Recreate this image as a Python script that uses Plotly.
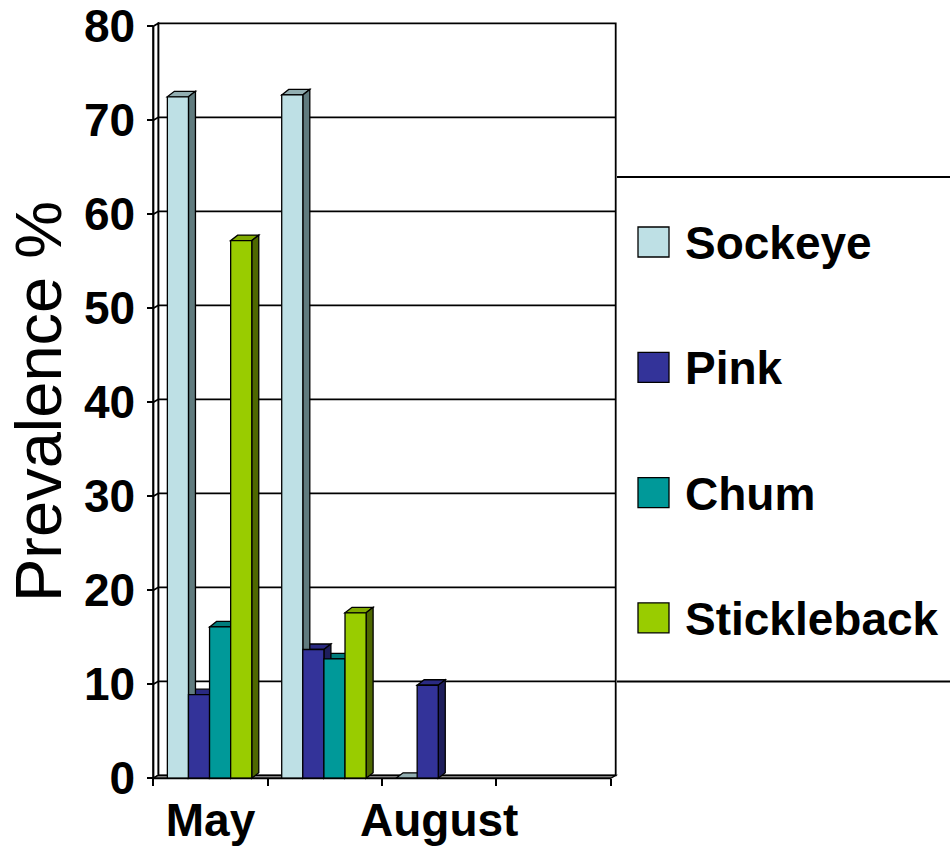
import plotly.graph_objects as go

# ---- data -------------------------------------------------------------
month_labels = ["May", "", "August", ""]
series_names = ["Sockeye", "Pink", "Chum", "Stickleback"]
sockeye = [72.5, 72.7, 0.0, None]
pink = [8.9, 13.7, 9.9, None]
chum = [16.1, 12.7, None, None]
stickleback = [57.2, 17.6, None, None]
y_ticks = [0, 10, 20, 30, 40, 50, 60, 70, 80]

# ---- styling ----------------------------------------------------------
front_colors = ["#BEE0E5", "#333399", "#009999", "#99CC00"]
top_colors = ["#92AEB1", "#2A2A82", "#007C7C", "#80AA00"]
side_colors = ["#607B7E", "#1E1E5C", "#005A5A", "#4E6800"]
FONT = "Liberation Sans, Arial, sans-serif"

W, H = 950, 851
L, R, T, B = 147, 623, 15, 783          # plot area in pixels
X0_PX, SLOT_PX = 153.3, 114.35           # x=0 position, pixels per category slot
Y0_PX, UNIT_PX = 778.3, 9.40             # y=0 position, pixels per unit

x_range = [(L - X0_PX) / SLOT_PX, (R - X0_PX) / SLOT_PX]
y_range = [(Y0_PX - B) / UNIT_PX, (Y0_PX - T) / UNIT_PX]

n_slots = len(month_labels)
y_top = y_ticks[-1]

WALL_DX, WALL_DY = 5 / SLOT_PX, 3 / UNIT_PX      # depth of back wall
BAR_DX, BAR_DY = 7 / SLOT_PX, 5.5 / UNIT_PX      # depth of each bar
BAR_W = 21.1 / SLOT_PX
GROUP_SHIFT = -0.008


def px_x(p):
    return (p - L) / (R - L)


def px_y(p):
    return (B - p) / (B - T)


def poly(pts):
    return "M " + " L ".join(f"{x:.5f},{y:.5f}" for x, y in pts) + " Z"


series = [sockeye, pink, chum, stickleback]
shapes = []

# back wall
shapes.append(dict(type="rect", xref="x", yref="y", layer="below",
                   x0=WALL_DX, x1=n_slots + WALL_DX, y0=WALL_DY, y1=y_top + WALL_DY,
                   fillcolor="white", line=dict(color="black", width=1.8)))
# left side wall
shapes.append(dict(type="path", xref="x", yref="y", layer="below",
                   path=poly([(0, 0), (WALL_DX, WALL_DY), (WALL_DX, y_top + WALL_DY), (0, y_top)]),
                   fillcolor="white", line=dict(color="black", width=1.8)))
# gridlines on the walls
for v in y_ticks[1:-1]:
    shapes.append(dict(type="path", xref="x", yref="y", layer="below",
                       path=f"M 0,{v} L {WALL_DX:.5f},{v + WALL_DY:.5f} L {n_slots + WALL_DX:.5f},{v + WALL_DY:.5f}",
                       line=dict(color="black", width=1.8)))
# floor
shapes.append(dict(type="path", xref="x", yref="y", layer="below",
                   path=poly([(0, 0), (n_slots, 0), (n_slots + WALL_DX, WALL_DY), (WALL_DX, WALL_DY)]),
                   fillcolor="#808080", line=dict(color="black", width=1.3)))

# bar geometry
bar_x = []
for i, vals in enumerate(series):
    bar_x.append([k + 0.5 + GROUP_SHIFT + (i - 1.5) * BAR_W for k in range(n_slots)])

tops, sides = [], []
for k in range(n_slots):
    for i, vals in enumerate(series):
        v = vals[k]
        if v is None:
            continue
        x0 = bar_x[i][k] - BAR_W / 2
        x1 = bar_x[i][k] + BAR_W / 2
        tops.append(dict(type="path", xref="x", yref="y", layer="below",
                         path=poly([(x0, v), (x0 + BAR_DX, v + BAR_DY), (x1 + BAR_DX, v + BAR_DY), (x1, v)]),
                         fillcolor=top_colors[i], line=dict(color="black", width=1.3)))
        sides.append(dict(type="path", xref="x", yref="y", layer="below",
                          path=poly([(x1, 0), (x1 + BAR_DX, BAR_DY), (x1 + BAR_DX, v + BAR_DY), (x1, v)]),
                          fillcolor=side_colors[i], line=dict(color="black", width=1.3)))
shapes += tops + sides

# front axis lines
shapes.append(dict(type="line", xref="x", yref="y", layer="above",
                   x0=0, x1=0, y0=0, y1=y_top, line=dict(color="black", width=1.8)))
shapes.append(dict(type="line", xref="x", yref="y", layer="above",
                   x0=0, x1=n_slots, y0=0, y1=0, line=dict(color="black", width=1.8)))

# legend frame
for yy in (177, 681.5):
    shapes.append(dict(type="line", xref="paper", yref="paper", layer="above",
                       x0=px_x(617), x1=px_x(952), y0=px_y(yy), y1=px_y(yy),
                       line=dict(color="black", width=1.8)))

fig = go.Figure()
for i, vals in enumerate(series):
    fig.add_trace(go.Bar(
        x=bar_x[i], y=vals, width=BAR_W, name=series_names[i],
        marker=dict(color=front_colors[i], line=dict(color="black", width=1.3)),
        showlegend=False,
    ))

annotations = []
# legend entries
for i, name in enumerate(series_names):
    cy = 242 + 125.3 * i
    shapes.append(dict(type="rect", xref="paper", yref="paper", layer="above",
                       x0=px_x(638), x1=px_x(669), y0=px_y(cy + 15), y1=px_y(cy - 15),
                       fillcolor=front_colors[i], line=dict(color="black", width=1.3)))
    annotations.append(dict(xref="paper", yref="paper", x=px_x(683), y=px_y(cy + 1),
                            xanchor="left", yanchor="middle", showarrow=False,
                            text=name, font=dict(family=FONT, size=46, color="black", weight="bold")))

# y-axis title
annotations.append(dict(xref="paper", yref="paper", x=px_x(38), y=px_y(402),
                        xanchor="center", yanchor="middle", showarrow=False, textangle=-90,
                        text="Prevalence %", font=dict(family=FONT, size=65, color="black")))

fig.update_layout(
    width=W, height=H,
    margin=dict(l=L, r=W - R, t=T, b=H - B, pad=0, autoexpand=False),
    paper_bgcolor="white", plot_bgcolor="white",
    barmode="overlay",
    shapes=shapes, annotations=annotations,
    showlegend=False,
    xaxis=dict(range=x_range, anchor="free", position=px_y(Y0_PX), automargin=False,
               tickmode="array", tickvals=[k + 0.5 for k in range(n_slots)], ticktext=month_labels,
               ticks="", showgrid=False, zeroline=False, showline=False, ticklabelstandoff=11,
               tickfont=dict(family=FONT, size=46, color="black", weight="bold"),
               minor=dict(tickmode="array", tickvals=list(range(n_slots + 1)), ticks="outside",
                          ticklen=7, tickwidth=2, tickcolor="black", showgrid=False)),
    yaxis=dict(range=y_range, anchor="free", position=px_x(X0_PX), automargin=False,
               tickmode="array", tickvals=y_ticks, ticks="outside", ticklen=6, tickwidth=2,
               tickcolor="black", showgrid=False, zeroline=False, showline=False, ticklabelstandoff=3,
               tickfont=dict(family=FONT, size=46, color="black", weight="bold")),
)

fig.write_html("out.html")
